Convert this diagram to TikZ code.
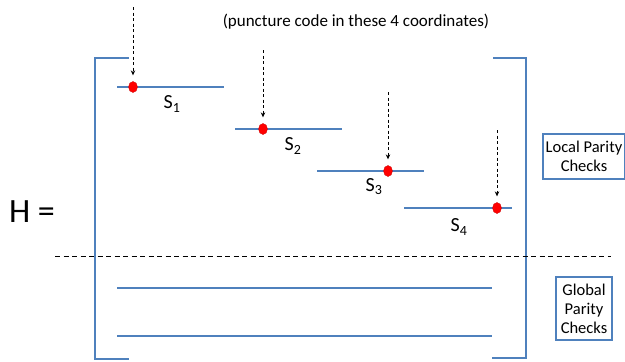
\documentclass[tikz,border=0pt]{standalone}
\usepackage{fontspec}
\setmainfont{Carlito}
\usetikzlibrary{arrows.meta,shapes.geometric}
\definecolor{lineblue}{RGB}{79,129,189}
\definecolor{dotred}{RGB}{255,0,0}
\tikzset{
  blueline/.style={draw=lineblue,line width=1.8pt},
  reddot/.style={ellipse,fill=dotred,draw=dotred!80!black,line width=0.3pt,minimum width=9pt,minimum height=11pt,inner sep=0pt},
  punct/.style={line width=0.8pt,dash pattern=on 3pt off 2.5pt,-{Stealth[length=5pt,width=4.5pt]}},
  sublabel/.style={font=\fontsize{20}{22}\selectfont,inner sep=0pt},
  checkbox/.style={draw=lineblue,line width=1.2pt,align=center,font=\fontsize{16.5}{19}\selectfont,inner sep=2pt},
  sepline/.style={line width=1pt,dash pattern=on 5pt off 3.5pt}
}
\begin{document}
\begin{tikzpicture}[x=1pt,y=-1pt]
\useasboundingbox (0,0) rectangle (625,362);
% brackets
\draw[blueline] (129,58) -- (95,58) -- (95,359) -- (129,359);
\draw[blueline] (493,58) -- (526,58) -- (526,358) -- (492,358);
% S lines
\coordinate (s1a) at (117,87); \coordinate (s1b) at (224,87);
\coordinate (s2a) at (235,129); \coordinate (s2b) at (342,129);
\coordinate (s3a) at (317,171); \coordinate (s3b) at (424,171);
\coordinate (s4a) at (404,208); \coordinate (s4b) at (512,208);
\draw[blueline] (s1a) -- (s1b);
\draw[blueline] (s2a) -- (s2b);
\draw[blueline] (s3a) -- (s3b);
\draw[blueline] (s4a) -- (s4b);
% global lines
\coordinate (g1a) at (117,288); \coordinate (g1b) at (492,288);
\coordinate (g2a) at (117,336); \coordinate (g2b) at (492,336);
\draw[blueline] (g1a) -- (g1b);
\draw[blueline] (g2a) -- (g2b);
% dots
\node[reddot] (d1) at (133,87) {};
\node[reddot] (d2) at (263,129) {};
\node[reddot] (d3) at (388,171) {};
\node[reddot] (d4) at (497,208) {};
% arrow starts
\coordinate (a1) at (133,7);
\coordinate (a2) at (263,50);
\coordinate (a3) at (388,92);
\coordinate (a4) at (497,130);
\draw[punct] (a1) -- ([yshift=6pt]d1.north);
\draw[punct] (a2) -- ([yshift=6pt]d2.north);
\draw[punct] (a3) -- ([yshift=6pt]d3.north);
\draw[punct] (a4) -- ([yshift=6pt]d4.north);
% labels
\node[sublabel] (l1) at (172,104) {S\textsubscript{1}};
\node[sublabel] (l2) at (293,146) {S\textsubscript{2}};
\node[sublabel] (l3) at (374,187) {S\textsubscript{3}};
\node[sublabel] (l4) at (459,227) {S\textsubscript{4}};
\node[font=\fontsize{17}{19}\selectfont] (title) at (356,22) {(puncture code in these 4 coordinates)};
\node[font=\fontsize{34}{36}\selectfont,inner sep=0pt] (H) at (32,212) {H =};
% separator
\coordinate (sepl) at (55,256); \coordinate (sepr) at (611,256);
\draw[sepline] (sepl) -- (sepr);
% boxes
\node[checkbox,minimum width=82pt,minimum height=45pt] (local) at (584,156.5) {Local Parity\\Checks};
\node[checkbox,minimum width=56pt,minimum height=63pt] (global) at (584,308.5) {Global\\Parity\\Checks};
\end{tikzpicture}
\end{document}
